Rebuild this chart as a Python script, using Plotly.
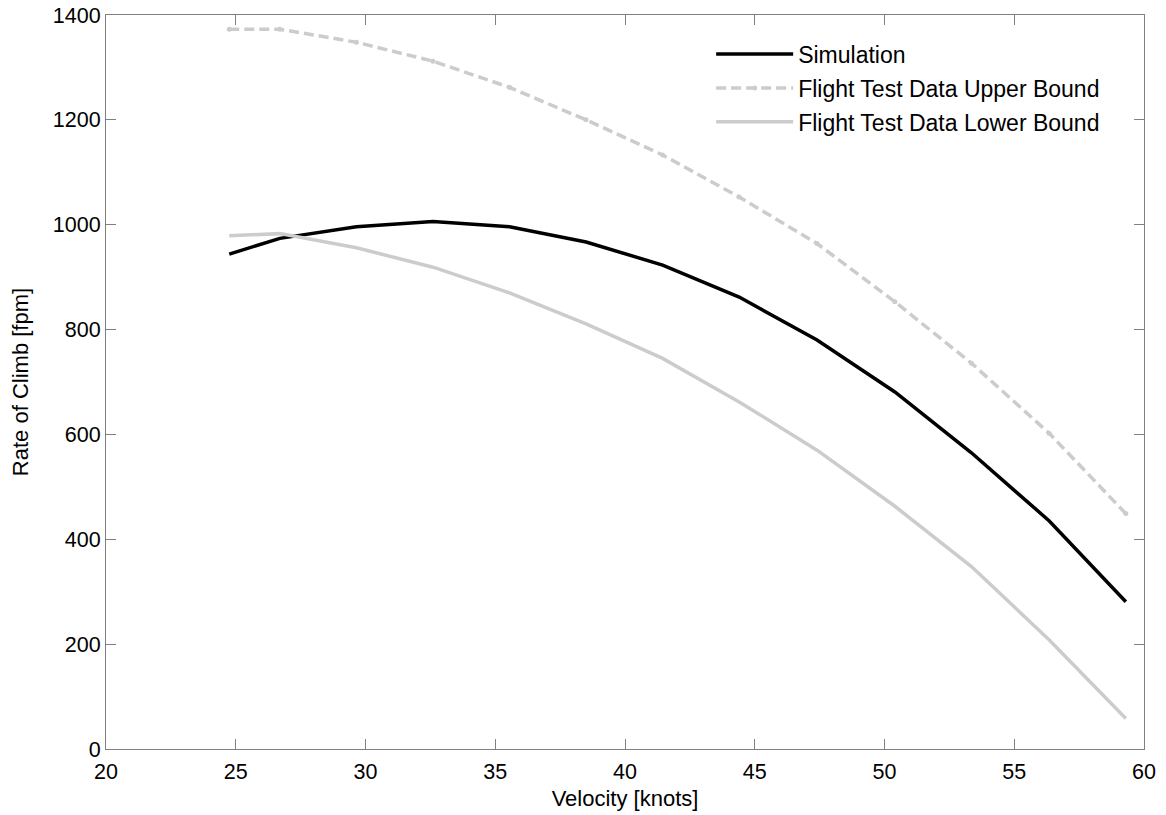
import plotly.graph_objects as go

velocity = [24.75, 26.7, 29.65, 32.6, 35.55, 38.5, 41.45, 44.4, 47.4, 50.4, 53.35, 56.35, 59.3]
simulation = [944, 974, 996, 1006, 996, 967, 923, 862, 780, 681, 565, 435, 281]
upper_bound = [1373, 1373, 1348, 1312, 1262, 1200, 1133, 1053, 964, 853, 736, 602, 449]
lower_bound = [979, 983, 956, 919, 870, 811, 745, 662, 570, 463, 348, 208, 58]

x_ticks = [20, 25, 30, 35, 40, 45, 50, 55, 60]
y_ticks = [0, 200, 400, 600, 800, 1000, 1200, 1400]

FONT = "Liberation Sans, Arial, sans-serif"
GRAY = "#cccccc"

fig = go.Figure()
fig.add_trace(go.Scatter(x=velocity, y=simulation, mode="lines", name="Simulation",
                         line=dict(color="black", width=3.5), legendgroup="a"))
fig.add_trace(go.Scatter(x=velocity, y=upper_bound, mode="lines+markers",
                         name="Flight Test Data Upper Bound",
                         line=dict(color=GRAY, width=3.5, dash="10px,5px"),
                         marker=dict(color=GRAY, size=5), legendgroup="b"))
fig.add_trace(go.Scatter(x=velocity, y=lower_bound, mode="lines",
                         name="Flight Test Data Lower Bound",
                         line=dict(color=GRAY, width=3.5), legendgroup="c"))

axis_common = dict(
    showline=True, linecolor="#808080", linewidth=1, mirror="ticks",
    ticks="inside", ticklen=10, tickcolor="#808080", tickwidth=1,
    showgrid=False, zeroline=False, automargin=False,
    tickfont=dict(family=FONT, size=21.5, color="black"),
)

fig.update_layout(
    width=1166, height=815,
    margin=dict(l=106, r=22, t=15, b=66),
    paper_bgcolor="white", plot_bgcolor="white",
    font=dict(family=FONT, size=22, color="black"),
    xaxis=dict(range=[20, 60], tickvals=x_ticks, ticklabelstandoff=3,
               title=dict(text="Velocity [knots]", font=dict(family=FONT, size=22), standoff=7),
               **axis_common),
    yaxis=dict(range=[0, 1400], tickvals=y_ticks,
               title=dict(text="Rate of Climb [fpm]", font=dict(family=FONT, size=22), standoff=18),
               **axis_common),
    legend=dict(x=0.583, y=0.976, xanchor="left", yanchor="top",
                bgcolor="rgba(255,255,255,0)", borderwidth=0,
                font=dict(family=FONT, size=23, color="black"),
                itemwidth=77, tracegroupgap=1),
    showlegend=True,
)

fig.write_html("out.html")
